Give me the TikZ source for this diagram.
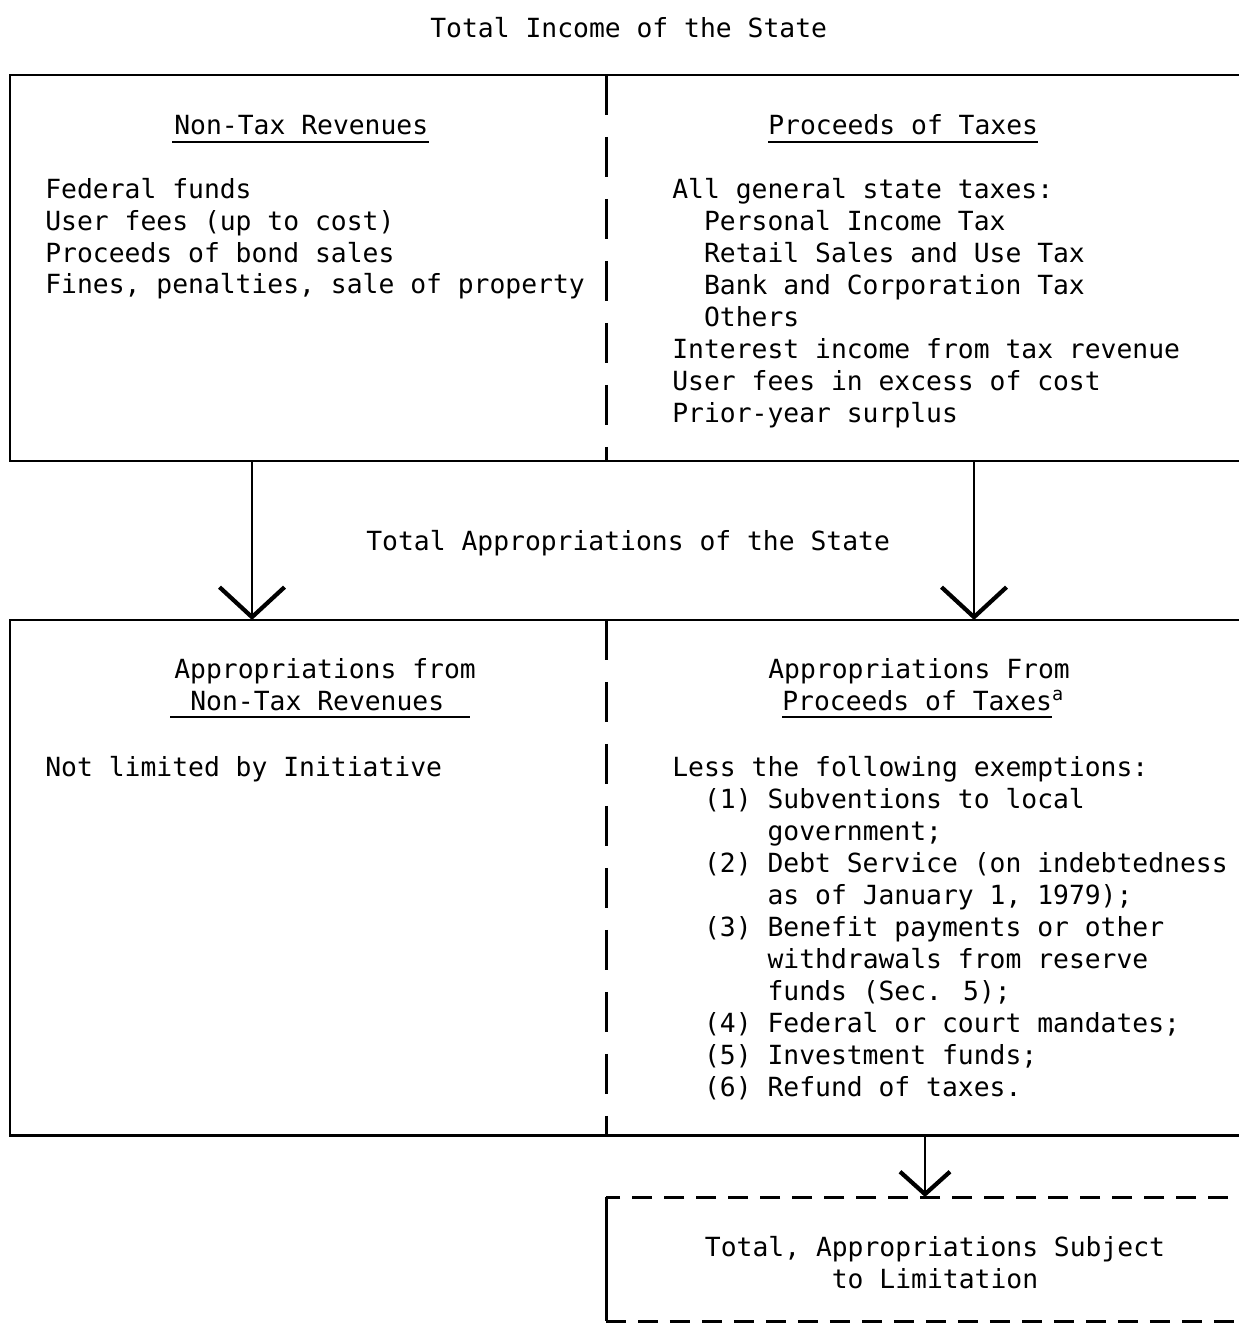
\documentclass[tikz,border=0pt]{standalone}
\usepackage{fontspec}
\usepackage{tikz}
\usetikzlibrary{arrows.meta}
\newfontfamily\typewr{DejaVu Sans Mono}
\newcommand{\typeSize}[0]{\fontsize{15}{18.2}\selectfont}

\begin{document}
\begin{tikzpicture}[x=0.02cm, y=-0.02cm]
  \tikzset{every node/.style={font=\typewr\typeSize, inner sep=0pt},
    txt/.style={anchor=base west, align=left},
    frame/.style={line width=1.7pt},
    split/.style={line width=1.7pt, dash pattern=on 0.8cm off 0.44cm},
    typedash/.style={line width=1.7pt, dash pattern=on 0.4cm off 0.24cm},
    uline/.style={line width=1.5pt},
    flow/.style={line width=1.5pt, -{Straight Barb[length=0.6cm, width=1.3cm, line width=2.4pt]}},
    smallflow/.style={line width=1.5pt, -{Straight Barb[length=0.45cm, width=1cm, line width=2.4pt]}}}
  \useasboundingbox (0,0) rectangle (1239,1324);
  \clip (0,0) rectangle (1239,1324);

  % income (multi-line nodes sit on the baseline of their last line)
  \node[txt] (income) at (430,38) {Total Income of the State};
  \draw[frame] (1260,75) -- (10,75) -- (10,461) -- (1260,461);
  \draw[split] (606,75) -- (606,461);
  \node[txt] (nontax) at (174,135) {Non-Tax Revenues};
  \draw[uline] ([xshift=-0.04cm, yshift=-4pt]nontax.base west) -- ([yshift=-4pt]nontax.base east);
  \node[txt] (taxes) at (768,135) {Proceeds of Taxes};
  \draw[uline] ([yshift=-4pt]taxes.base west) -- ([yshift=-4pt]taxes.base east);
  \node[txt] (ntlist) at (45,294) {Federal funds\\
    User fees (up to cost)\\
    Proceeds of bond sales\\
    Fines, penalties, sale of property};
  \node[txt] (txlist) at (672,422) {All general state taxes:\\
    \phantom{xx}Personal Income Tax\\
    \phantom{xx}Retail Sales and Use Tax\\
    \phantom{xx}Bank and Corporation Tax\\
    \phantom{xx}Others\\
    Interest income from tax revenue\\
    User fees in excess of cost\\
    Prior-year surplus};

  % appropriations
  \coordinate (ntOut) at (252,461);
  \coordinate (ntIn) at (252,620);
  \coordinate (txOut) at (974,461);
  \coordinate (txIn) at (974,620);
  \draw[flow] (ntOut) -- (ntIn);
  \draw[flow] (txOut) -- (txIn);
  \node[txt] (approp) at (366,550) {Total Appropriations of the State};
  \draw[frame] (1260,620) -- (10,620) -- (10,1135) -- (1260,1135);
  \draw[split] (606,620) -- (606,1135);
  \node[txt] (apnt) at (174,678) {Appropriations from};
  \node[txt] (apntb) at (190,710) {Non-Tax Revenues};
  \draw[uline] ([xshift=-0.4cm, yshift=-4pt]apntb.base west) -- ([xshift=0.5cm, yshift=-4pt]apntb.base east);
  \node[txt] (aptx) at (768,678) {Appropriations From};
  \node[txt] (aptxb) at (782,710) {Proceeds of Taxes\rlap{\textsuperscript{a}}};
  \draw[uline] ([yshift=-4pt]aptxb.base west) -- ([yshift=-4pt]aptxb.base east);
  \node[txt] (notlim) at (45,776) {Not limited by Initiative};
  \node[txt] (exempt) at (672,1096) {Less the following exemptions:\\
    \phantom{xx}(1) Subventions to local\\
    \phantom{xx(1)x}government;\\
    \phantom{xx}(2) Debt Service (on indebtedness\\
    \phantom{xx(2)x}as of January 1, 1979);\\
    \phantom{xx}(3) Benefit payments or other\\
    \phantom{xx(3)x}withdrawals from reserve\\
    \phantom{xx(3)x}funds (Sec. 5);\\
    \phantom{xx}(4) Federal or court mandates;\\
    \phantom{xx}(5) Investment funds;\\
    \phantom{xx}(6) Refund of taxes.};

  % subject to limitation
  \coordinate (limOut) at (925,1135);
  \coordinate (limIn) at (925,1197);
  \draw[smallflow] (limOut) -- (limIn);
  \draw[typedash] (1260,1197) -- (606,1197);
  \draw[frame] (606,1197) -- (606,1321);
  \draw[typedash] (606,1321) -- (1260,1321);
  \node[txt, align=center, anchor=base] (limit) at (935,1288) {Total, Appropriations Subject\\to Limitation};
\end{tikzpicture}
\end{document}
